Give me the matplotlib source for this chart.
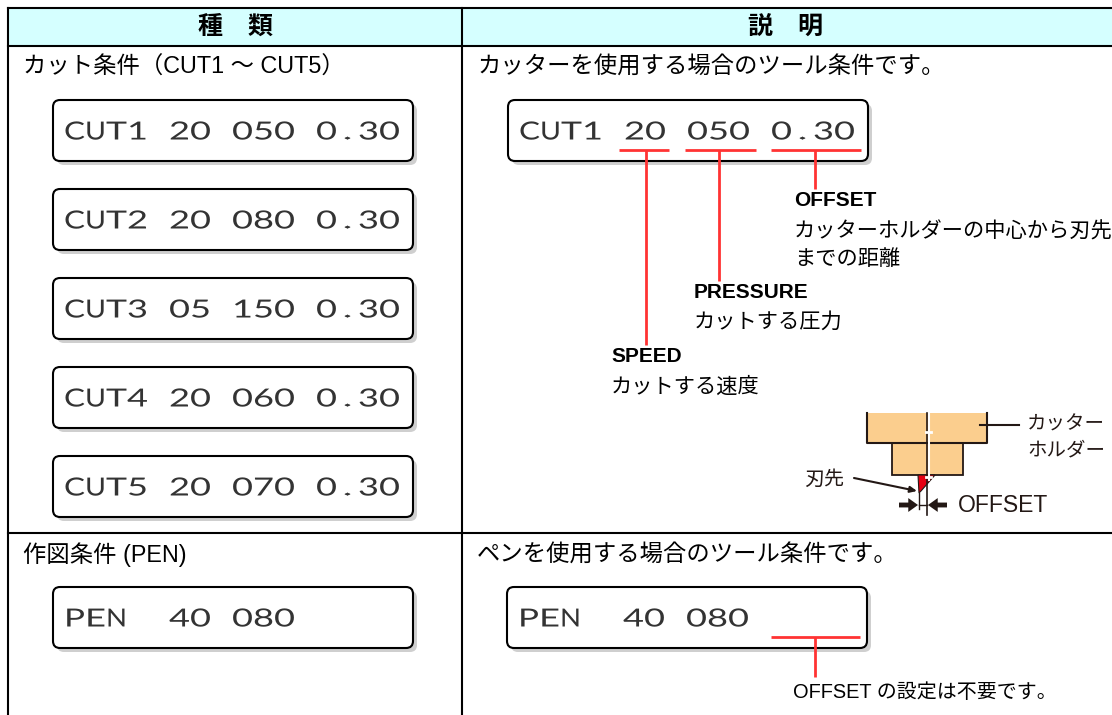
import numpy as np
import matplotlib
matplotlib.use("Agg")
import matplotlib.pyplot as plt
from matplotlib.patches import FancyBboxPatch, Rectangle, Polygon
from matplotlib.patheffects import AbstractPathEffect
from matplotlib.path import Path
from matplotlib.font_manager import FontProperties, findfont, get_font
from matplotlib.ft2font import LoadFlags

HEADERS = ["種　類", "説　明"]
ROW_TITLES_LEFT = ["カット条件（CUT1 ～ CUT5）", "作図条件 (PEN)"]
ROW_TITLES_RIGHT = ["カッターを使用する場合のツール条件です。", "ペンを使用する場合のツール条件です。"]
CUT_LINES = ["CUT1 20 050 0.30", "CUT2 20 080 0.30", "CUT3 05 150 0.30",
             "CUT4 20 060 0.30", "CUT5 20 070 0.30"]
PEN_LINE = "PEN  40 080"
CUT_TOPS = [100, 189, 278, 367, 456]

FONT = ["Liberation Sans", "Noto Sans CJK JP"]
LCD_PROP = dict(family="Lato", weight="normal")
LCD_SIZE = 18.0
LCD_CELL_PX = 21.0
RED = "#FF3333"
INK = "#231815"


class LcdCells(AbstractPathEffect):
    """Spread the glyphs of a line over equal wide cells, like the LCD font."""
    def __init__(self, text):
        super().__init__()
        font = get_font(findfont(FontProperties(**LCD_PROP)))
        font.set_size(100, 72)
        cell = LCD_CELL_PX * 100 / (LCD_SIZE * 100 / 72)
        src, dst = [0.0], [0.0]
        pos = 0.0
        for i, ch in enumerate(text):
            adv = font.load_char(ord(ch), flags=LoadFlags.NO_HINTING).linearHoriAdvance / 65536
            if ch == ".":
                src += [pos + adv * 0.3, pos + adv * 0.7]
                dst += [(i + 0.5) * cell - 3, (i + 0.5) * cell + 3]
            pos += adv
            src.append(pos)
            dst.append((i + 1) * cell)
        self.src, self.dst = np.array(src), np.array(dst)

    def draw_path(self, renderer, gc, tpath, affine, rgbFace=None):
        v = tpath.vertices.copy()
        v[:, 0] = np.interp(v[:, 0], self.src, self.dst)
        renderer.draw_path(gc, Path(v, tpath.codes), affine, rgbFace)


fig = plt.figure(figsize=(11.12, 7.15), dpi=100)
ax = fig.add_axes([0, 0, 1, 1])
ax.set_xlim(0, 1112)
ax.set_ylim(715, 0)
ax.axis("off")


def txt(x, y, s, size=15.3, **kw):
    kw.setdefault("color", "black")
    kw.setdefault("va", "center")
    kw.setdefault("family", FONT)
    return ax.text(x, y, s, fontsize=size, **kw)


def lcd(x, top, s, w=360, h=61):
    ax.add_patch(FancyBboxPatch((x + 4, top + 4), w, h, boxstyle="round,pad=0,rounding_size=7",
                                fc="#CFCFCF", ec="none", zorder=2))
    ax.add_patch(FancyBboxPatch((x, top), w, h, boxstyle="round,pad=0,rounding_size=7",
                                fc="white", ec="black", lw=1.5, zorder=3))
    t = ax.text(x + 11, top + 32, s, fontsize=LCD_SIZE, color="#333333",
                va="center", ha="left", zorder=4, **LCD_PROP)
    t.set_path_effects([LcdCells(s)])


# table
ax.add_patch(Rectangle((8, 8), 1112, 38, fc="#D5FFFF", ec="none", zorder=0))
for xs, ys in [((8, 1112), (8, 8)), ((8, 1112), (46, 46)), ((8, 1112), (533, 533)),
               ((8, 8), (8, 715)), ((462, 462), (8, 715))]:
    ax.plot(xs, ys, color="black", lw=1.5, zorder=1, solid_capstyle="projecting")

txt(235, 27, HEADERS[0], 18, ha="center", fontweight="bold")
txt(785, 27, HEADERS[1], 18, ha="center", fontweight="bold")
txt(23, 67, ROW_TITLES_LEFT[0], 16.8)
txt(23, 555, ROW_TITLES_LEFT[1], 16.8)
txt(477, 67, ROW_TITLES_RIGHT[0], 16.8)
txt(477, 555, ROW_TITLES_RIGHT[1], 16.8)

for top, line in zip(CUT_TOPS, CUT_LINES):
    lcd(53, top, line)
lcd(53, 587, PEN_LINE)
lcd(508, 100, CUT_LINES[0])
lcd(507, 587, PEN_LINE)

# red callouts
for x0, x1, y in [(619, 669, 150), (685, 756, 150), (771, 861, 150), (771, 860, 637)]:
    ax.plot([x0, x1], [y, y], color=RED, lw=2, zorder=5, solid_capstyle="butt")
for x, y0, y1 in [(646, 150, 345), (719, 150, 281), (815, 150, 189), (815, 637, 677)]:
    ax.plot([x, x], [y0, y1], color=RED, lw=2, zorder=5, solid_capstyle="butt")

txt(794, 201, "OFFSET", 15, fontweight="bold")
txt(794, 231, "カッターホルダーの中心から刃先", 15.3)
txt(794, 259, "までの距離", 15.3)
txt(694, 293, "PRESSURE", 15, fontweight="bold")
txt(694, 322, "カットする圧力", 15.3)
txt(611, 357, "SPEED", 15, fontweight="bold")
txt(611, 387, "カットする速度", 15.3)
txt(793, 693, "OFFSET の設定は不要です。", 14.4)

# cutter holder diagram
ax.add_patch(Rectangle((867, 413), 120, 30, fc="#FBCE8E", ec="none", zorder=2))
ax.add_patch(Rectangle((892, 443), 71, 32, fc="#FBCE8E", ec=INK, lw=1.3, zorder=2))
ax.plot((867, 867, 987, 987), (413, 443, 443, 413), color=INK, lw=1.5, zorder=3)
ax.add_patch(Polygon([(918, 475), (935, 475), (921, 491), (919, 493)], fc="#E60012", ec=INK, lw=0.8, zorder=3))
ax.plot([929, 929], [413, 480], color="white", lw=1.5, zorder=4)
ax.plot([927, 927], [413, 515], color=INK, lw=1.2, zorder=5)
ax.plot([925.5, 930.5], [432, 432], color="white", lw=2, zorder=6)
ax.plot([925.5, 930.5], [477, 477], color="white", lw=2, zorder=6)
ax.plot([919, 919], [493, 509], color=INK, lw=1, zorder=5)
ax.plot([919, 927], [505, 505], color=INK, lw=1, zorder=5)
ax.plot([980, 1019], [425, 425], color=INK, lw=1.5, zorder=5)
ax.annotate("", xy=(917, 491), xytext=(854, 478),
            arrowprops=dict(arrowstyle="-|>,head_width=0.18,head_length=0.4", color=INK, lw=1.5,
                            shrinkA=0, shrinkB=0), zorder=6)
for x0, x1 in [(899, 918), (947, 928)]:
    ax.annotate("", xy=(x1, 505), xytext=(x0, 505),
                arrowprops=dict(width=3.5, headwidth=10, headlength=7, color=INK,
                                shrink=0, linewidth=0), zorder=6)
txt(804, 479, "刃先", 14.4, color=INK)
txt(1027, 425, "カッター", 14, color=INK)
txt(1027, 451, "ホルダー", 14, color=INK)
txt(958, 505, "OFFSET", 16.5, color=INK)

fig.savefig("out.png", dpi=100)
